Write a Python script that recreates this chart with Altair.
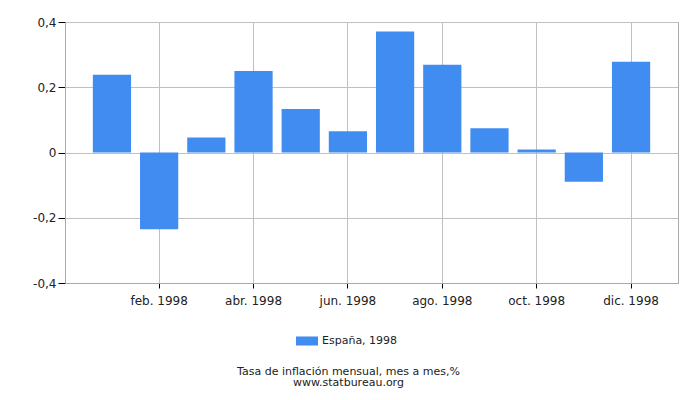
import altair as alt
import pandas as pd

months = ["ene. 1998", "feb. 1998", "mar. 1998", "abr. 1998", "may. 1998", "jun. 1998",
          "jul. 1998", "ago. 1998", "sep. 1998", "oct. 1998", "nov. 1998", "dic. 1998"]
values = [0.238, -0.235, 0.046, 0.25, 0.133, 0.065, 0.371, 0.269, 0.074, 0.009, -0.09, 0.278]
series = ["España, 1998"] * 12
shown_months = ["feb. 1998", "abr. 1998", "jun. 1998", "ago. 1998", "oct. 1998", "dic. 1998"]
y_ticks = [-0.4, -0.2, 0, 0.2, 0.4]

df = pd.DataFrame({"month": months, "value": values, "series": series})

FONT = "DejaVu Sans"
y_label_expr = ("datum.value == 0 ? '0' : (datum.value < 0 ? '-' : '') + "
                "replace(format(abs(datum.value), '.1f'), '.', ',')")

chart = alt.Chart(df).mark_bar().encode(
    x=alt.X("month:N", sort=months, title=None,
            scale=alt.Scale(paddingInner=0.19, paddingOuter=0.59),
            axis=alt.Axis(values=shown_months, bandPosition=0.5, labelAngle=0, grid=True,
                          tickSize=5, tickColor="#000", domainColor="#aaa",
                          labelPadding=7, labelFontSize=12, labelColor="#222",
                          labelFont=FONT, gridColor="#c0c0c0")),
    y=alt.Y("value:Q", title=None,
            scale=alt.Scale(domain=[-0.4, 0.4], nice=False, zero=False),
            axis=alt.Axis(values=y_ticks, labelExpr=y_label_expr, tickSize=7, tickColor="#000",
                          domainColor="#aaa", labelPadding=2, labelFontSize=12,
                          labelColor="#222", labelFont=FONT, gridColor="#c0c0c0")),
    color=alt.Color("series:N", scale=alt.Scale(range=["#418cf0"]),
                    legend=alt.Legend(title=None, orient="none", legendX=231, legendY=308,
                                      symbolType="M-1,-0.41L1,-0.41L1,0.41L-1,0.41Z",
                                      symbolSize=484, symbolStrokeWidth=0, symbolOpacity=1,
                                      labelFontSize=11, labelFont=FONT, labelColor="#222")),
).properties(
    width=613, height=261,
    autosize=alt.AutoSizeParams(type="none"),
    padding={"left": 57, "top": 14, "right": 14, "bottom": 120},
    title=alt.TitleParams(["Tasa de inflación mensual, mes a mes,%", "www.statbureau.org"],
                          orient="bottom", anchor="middle", fontSize=11, font=FONT,
                          fontWeight="normal", color="#222", offset=20, dx=-23, lineHeight=11),
).configure_view(stroke="#aaa")

chart.save("out.html", embed_options={"renderer": "svg", "actions": False})
